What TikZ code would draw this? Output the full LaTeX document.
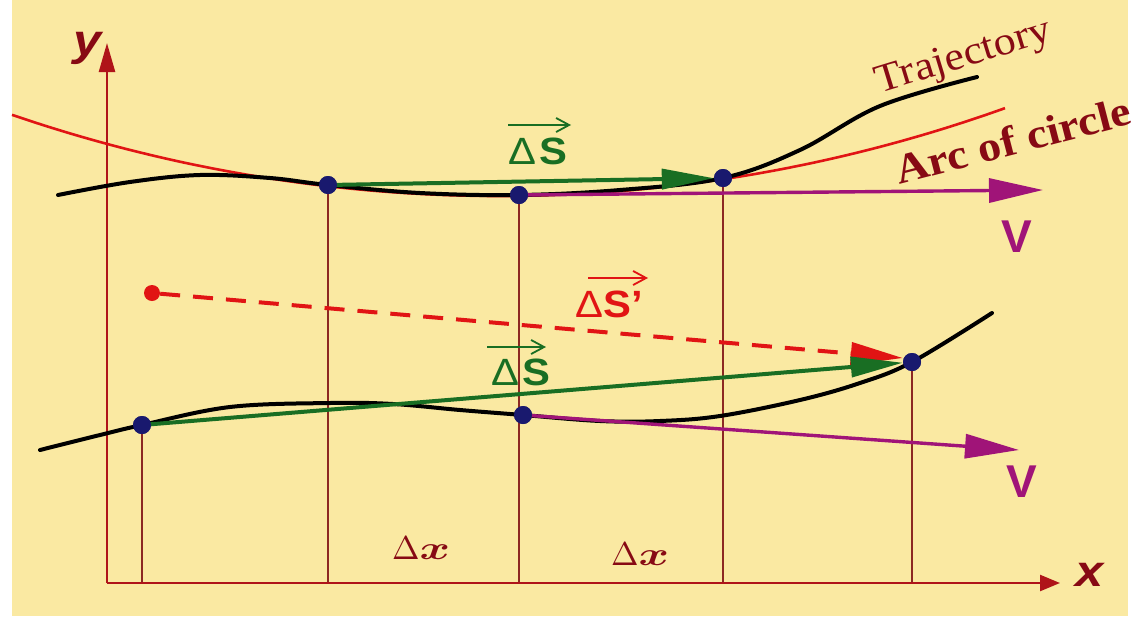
\documentclass[tikz,border=0pt]{standalone}
\usepackage{amsmath}
\usepackage{fontspec}
\setmainfont{Liberation Serif}
\setsansfont{Liberation Sans}
\usetikzlibrary{arrows.meta}
\definecolor{bg}{RGB}{250,233,162}
\definecolor{axisred}{RGB}{175,20,25}
\definecolor{vlinec}{RGB}{140,40,35}
\definecolor{darkred}{RGB}{135,10,20}
\definecolor{arcred}{RGB}{225,20,20}
\definecolor{gr}{RGB}{25,110,35}
\definecolor{mag}{RGB}{160,20,120}
\definecolor{navy}{RGB}{25,25,110}
\tikzset{
  dot/.style={circle,fill=navy,minimum size=18pt,inner sep=0pt},
  reddot/.style={circle,fill=arcred,minimum size=16pt,inner sep=0pt},
  vline/.style={draw=vlinec,line width=1.8pt},
  axisline/.style={draw=axisred,line width=2.4pt},
  traj/.style={draw=black,line width=4pt,line cap=round},
  arcline/.style={draw=arcred,line width=2.6pt},
  garrow/.style={draw=gr,line width=4pt,-{Triangle[length=52pt,width=20pt]}},
  marrow/.style={draw=mag,line width=3.4pt,-{Triangle[length=54pt,width=24pt]}},
  rarrow/.style={draw=arcred,line width=4pt,dash pattern=on 20pt off 13pt,-{Triangle[length=52pt,width=22pt]}},
  overarrow/.style={line width=1.8pt,-{Straight Barb[length=13pt,width=14pt,line width=1.8pt]}},
  lbl/.style={inner sep=0pt,font=\fontsize{38}{42}\selectfont\sffamily,xscale=1.1},
  vlbl/.style={inner sep=0pt,text=mag,font=\fontsize{46}{50}\selectfont\sffamily\bfseries},
  axlbl/.style={inner sep=0pt,text=darkred,font=\fontsize{44}{48}\selectfont\sffamily\bfseries\itshape,xscale=1.15},
  dxlbl/.style={inner sep=0pt,text=darkred},
}
\newcommand{\dxtext}{\scalebox{3.3}{$\Delta\scalebox{1.4}[1]{$\boldsymbol{x}$}$}}
\begin{document}
\begin{tikzpicture}[x=1pt,y=-1pt]
\useasboundingbox (0,0) rectangle (1134,616);
\fill[white] (0,0) rectangle (1134,616);
\fill[bg] (12,0) rectangle (1128,616);

\coordinate (o) at (107,583);
\coordinate (ytip) at (107,43);
\coordinate (xtip) at (1060,583);

% dots (positions)
\node[dot] (p1) at (328,185) {};
\node[dot] (p2) at (519,195) {};
\node[dot] (p3) at (723,178) {};
\node[dot] (q1) at (142,425) {};
\node[dot] (q2) at (523,415) {};
\node[dot] (q3) at (912,362) {};
\node[reddot] (r) at (152,293) {};

% vertical lines
\foreach \p in {p1,p2,p3,q1,q3}{\draw[vline] (\p.center) -- (\p.center |- o);}

% axes
\draw[axisline,-{Triangle[length=29pt,width=16pt]}] (o) -- (ytip);
\draw[axisline,-{Triangle[length=20pt,width=16pt]}] (o) -- (xtip);

% arc of circle (centre (499,-1305), radius 1501)
\draw[arcline] plot[domain=12:1005,samples=120] (\x,{-1305+1501*sqrt(1-((\x-499)/1501)^2)});
% upper trajectory
\draw[traj] plot[smooth,tension=0.6] coordinates {(58,195) (130,182) (200,175) (270,178) (328,185) (420,193) (519,195) (620,190) (723,178) (800,150) (880,106) (977,77)};
% lower trajectory
\draw[traj] plot[smooth,tension=0.6] coordinates {(40,450) (100,435) (142,425) (230,407) (330,403) (393,404) (460,410) (523,415) (600,421) (660,421) (720,416) (800,400) (860,383) (912,362) (992,313)};

% arrows
\coordinate (v1) at (1043,190);
\coordinate (v2) at (1019,450);
\draw[marrow] (p2.center) -- (v1);
\draw[marrow] (q2.center) -- (v2);
\draw[garrow] (p1.center) -- (p3);
\draw[rarrow] (r) -- ([yshift=4pt]q3.west);
\draw[garrow] (q1.center) -- (q3);

% dots on top
\fill[navy] (p1) circle (9pt) (p2) circle (9pt) (p3) circle (9pt) (q1) circle (9pt) (q2) circle (9pt) (q3) circle (9pt);

% labels
\node[lbl,text=gr] (ds1) at (538,151) {Δ\hspace{3pt}\bfseries S};
\node[lbl,text=gr] (ds2) at (521,372) {Δ\hspace{3pt}\bfseries S};
\node[lbl,text=arcred] (ds3) at (609,304) {Δ\bfseries S’};
\draw[overarrow,draw=gr] ([xshift=-30pt,yshift=26pt]ds1.center) -- ([xshift=33pt,yshift=26pt]ds1.center);
\draw[overarrow,draw=gr] ([xshift=-34pt,yshift=25pt]ds2.center) -- ([xshift=25pt,yshift=25pt]ds2.center);
\draw[overarrow,draw=arcred] ([xshift=-21pt,yshift=26pt]ds3.center) -- ([xshift=39pt,yshift=26pt]ds3.center);

\node[vlbl] (vl1) at (1017,237) {V};
\node[vlbl] (vl2) at (1022,482) {V};

\node[axlbl] (ylbl) at (88,48) {y};
\node[axlbl] (xlbl) at (1090,575) {x};

\node[inner sep=0pt,text=darkred,rotate=17,font=\fontsize{40}{44}\selectfont,xscale=1.1] (traj) at (964,58) {Trajectory};
\node[inner sep=0pt,text=darkred,rotate=14.5,font=\fontsize{42}{46}\selectfont\bfseries,xscale=1.1] (arcl) at (1013,140) {Arc of circle};

\node[dxlbl] (dx1) at (421,548) {\dxtext};
\node[dxlbl] (dx2) at (640,554) {\dxtext};
\end{tikzpicture}
\end{document}
